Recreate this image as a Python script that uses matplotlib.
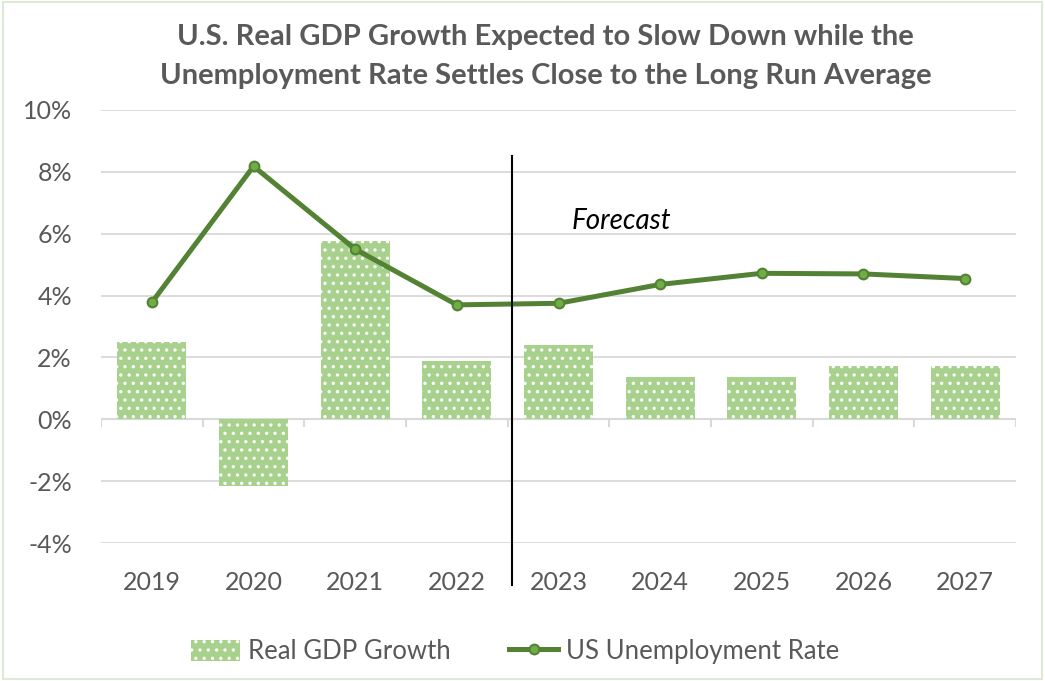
import matplotlib
matplotlib.use('Agg')

import matplotlib.pyplot as plt
import matplotlib.patches as patches
import numpy as np

years = ['2019', '2020', '2021', '2022', '2023', '2024', '2025', '2026', '2027']
gdp_growth = [2.49, -2.17, 5.75, 1.88, 2.39, 1.36, 1.36, 1.71, 1.71]
unemployment = [3.78, 8.18, 5.5, 3.7, 3.75, 4.36, 4.72, 4.7, 4.55]
ytick_vals = [-4, -2, 0, 2, 4, 6, 8, 10]

plt.rcParams['font.family'] = ['Lato', 'DejaVu Sans']
plt.rcParams['hatch.linewidth'] = 1.2

gray = '#595959'
bar_green = '#A9D18E'
line_green = '#548235'

fig = plt.figure(figsize=(10.45, 6.81), dpi=100)
ax = fig.add_axes([0.0967, 0.2026, 0.8755, 0.6359])

x = np.arange(len(years))
bars = ax.bar(x, gdp_growth, width=0.68, color=bar_green, edgecolor='white',
              linewidth=0, hatch='..', label='Real GDP Growth', zorder=2)
line, = ax.plot(x, unemployment, color=line_green, linewidth=3.6, marker='o',
                markersize=7, markerfacecolor='#70AD47', markeredgecolor=line_green,
                markeredgewidth=1.5, label='US Unemployment Rate', zorder=3)

ax.set_xlim(-0.5, len(years) - 0.5)
ax.set_ylim(-4, 10)
ax.set_yticks(ytick_vals)
ax.set_yticklabels([f'{v}%' for v in ytick_vals])
ax.set_xticks(x)
ax.set_xticklabels(years)
ax.tick_params(axis='y', length=0, labelsize=18, labelcolor=gray, pad=21)
ax.tick_params(axis='x', length=0, labelsize=18, labelcolor=gray, pad=20)

for s in ax.spines.values():
    s.set_visible(False)
ax.grid(axis='y', color='#D9D9D9', linewidth=1.3, zorder=0)
ax.set_axisbelow(True)

# zero axis line with tick marks between categories
ax.axhline(0, color='#D9D9D9', linewidth=1.5, zorder=1)
for b in np.arange(-0.5, len(years), 1.0):
    ax.plot([b, b], [0, -0.22], color='#D9D9D9', linewidth=1.5, zorder=1)

# forecast divider
ax.plot([3.54, 3.54], [8.5, -5.35], color='black', linewidth=1.5,
        clip_on=False, zorder=4)
ax.text(4.13, 6.4, 'Forecast', fontsize=20, style='italic', color='black',
        va='center', ha='left')

fig.text(0.522, 0.945, 'U.S. Real GDP Growth Expected to Slow Down while the',
         ha='center', va='center', fontsize=21, fontweight='bold', color=gray)
fig.text(0.522, 0.889, 'Unemployment Rate Settles Close to the Long Run Average',
         ha='center', va='center', fontsize=21, fontweight='bold', color=gray)

leg = fig.legend([bars, line], ['Real GDP Growth', 'US Unemployment Rate'],
                 loc='center', bbox_to_anchor=(0.493, 0.043), ncol=2, frameon=False,
                 fontsize=18.5, handlelength=1.9, handleheight=0.9,
                 columnspacing=2.3, handletextpad=0.3)
for t in leg.get_texts():
    t.set_color(gray)

fig.patches.append(patches.Rectangle((0.003, 0.003), 0.994, 0.994,
                                     transform=fig.transFigure, fill=False,
                                     edgecolor='#DDEBD3', linewidth=1.5))

fig.savefig('out.png', dpi=100)
